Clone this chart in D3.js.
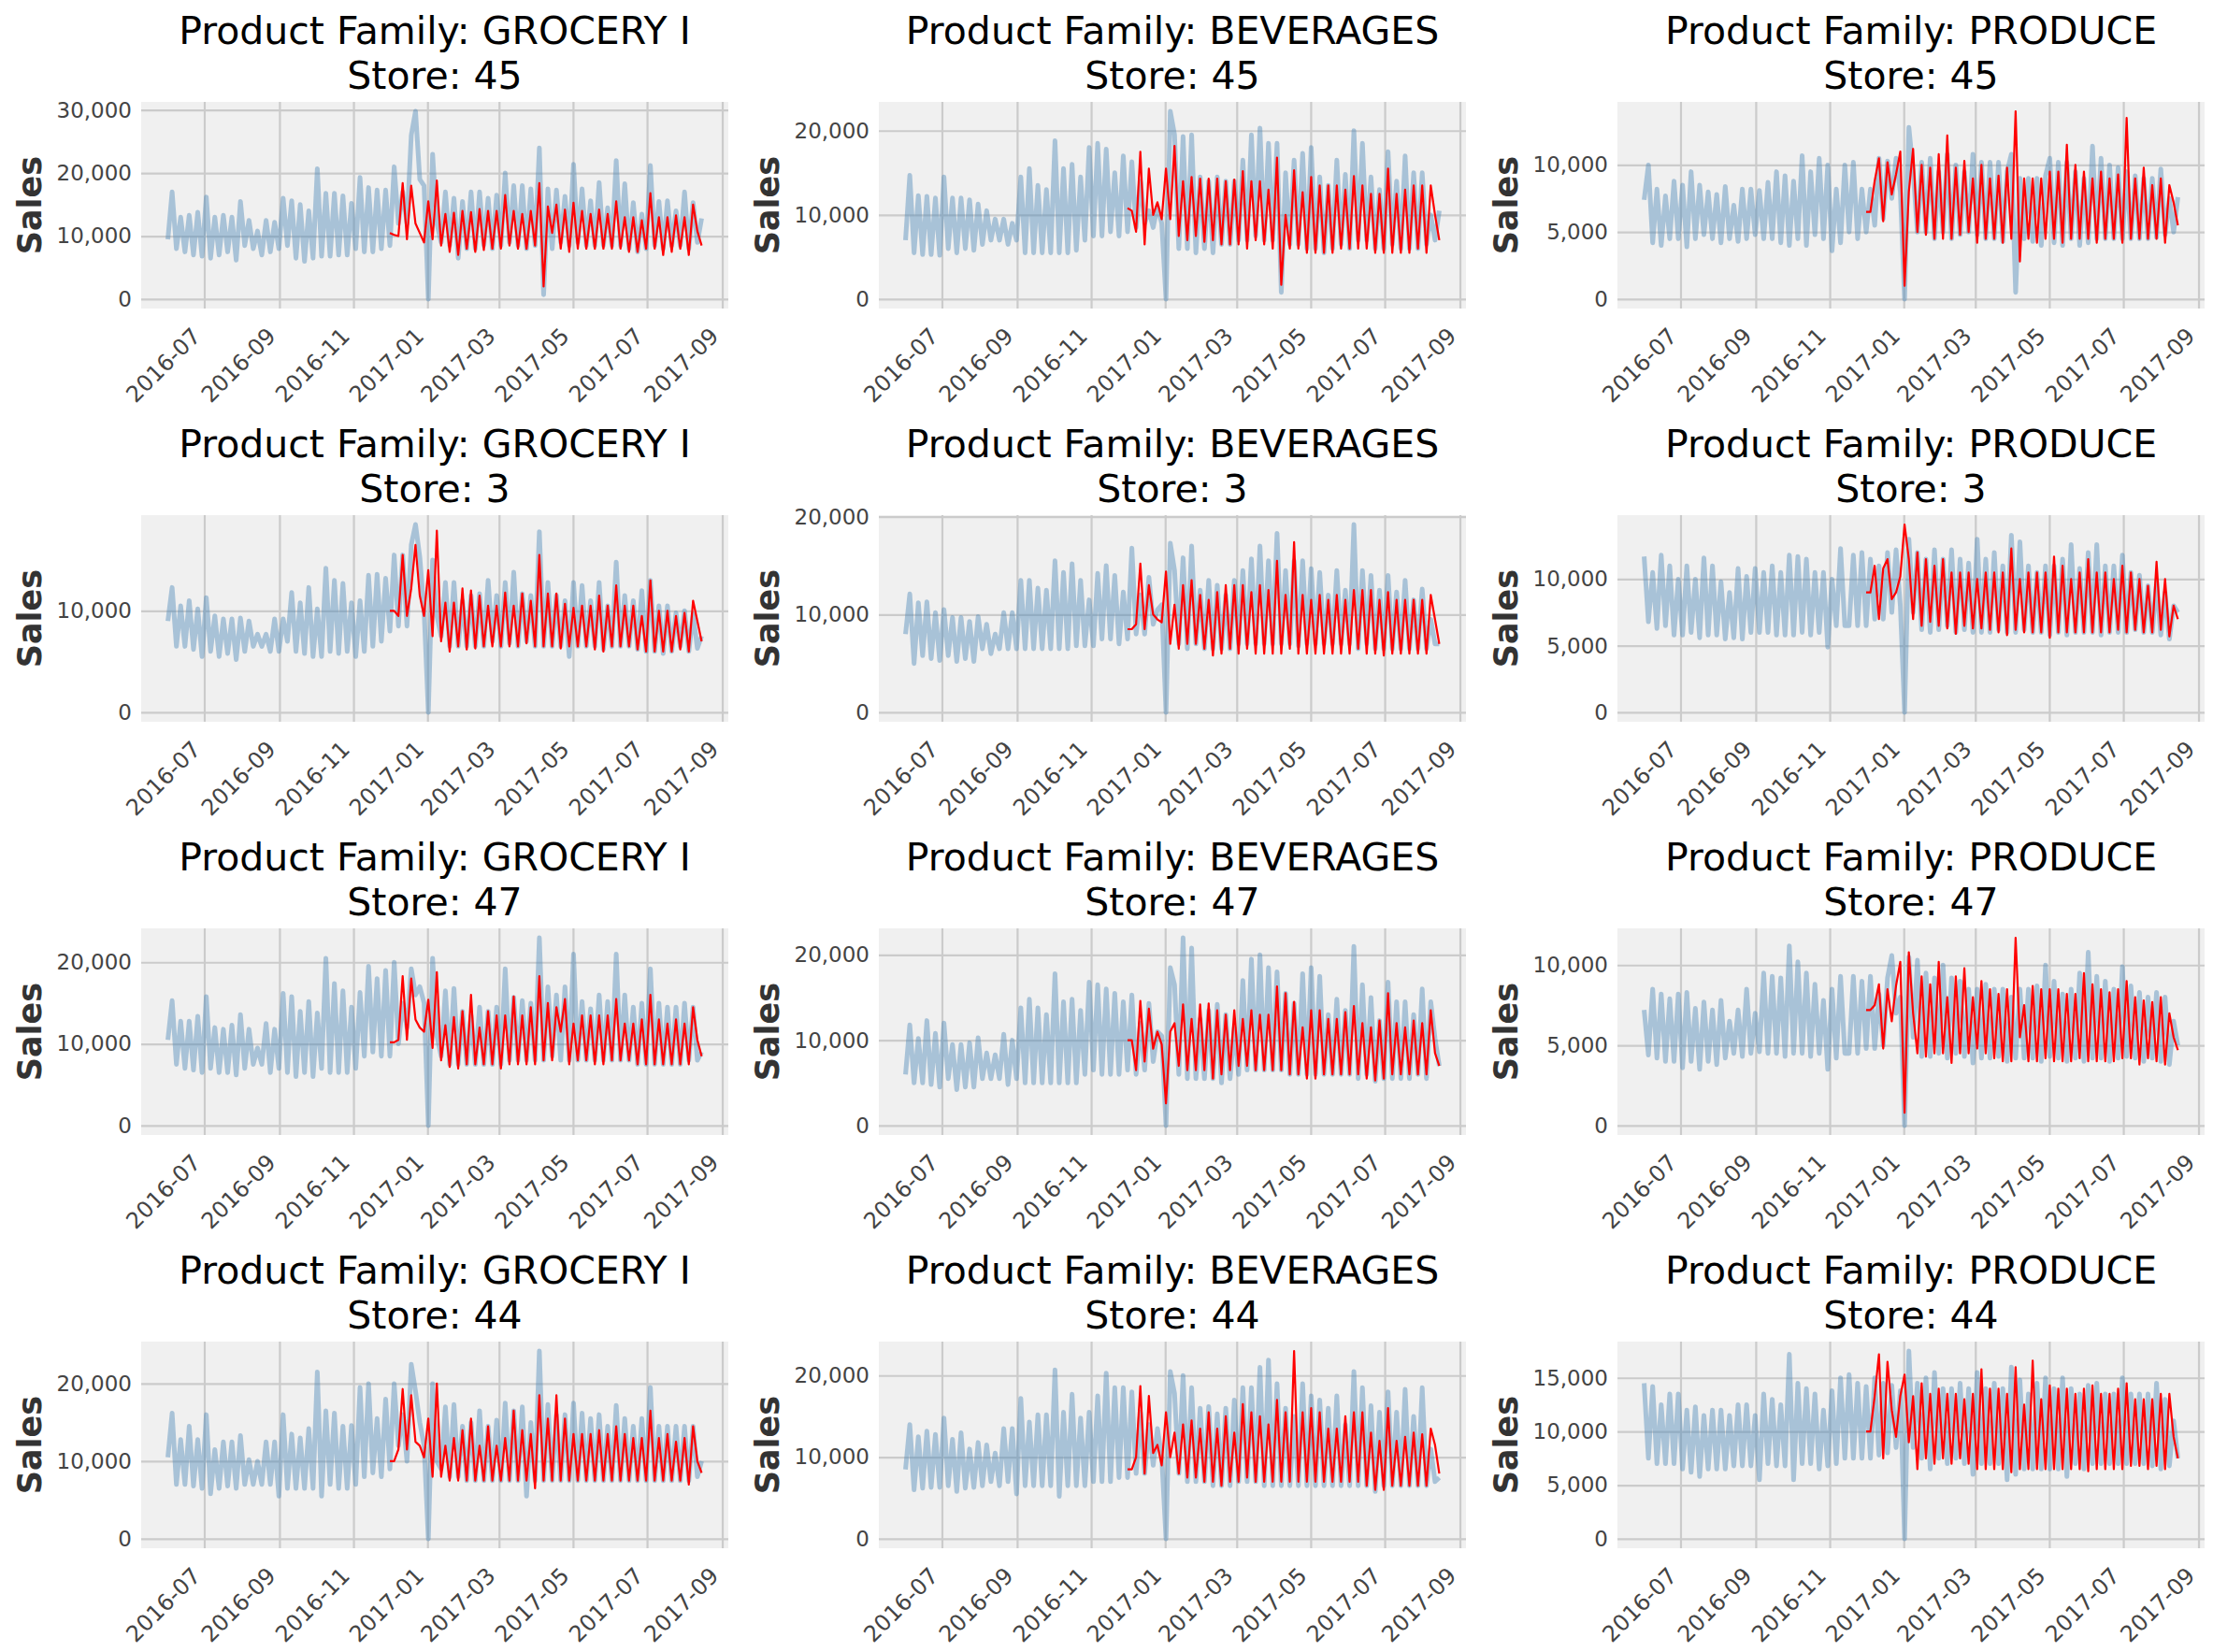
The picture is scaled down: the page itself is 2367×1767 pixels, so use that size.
<!DOCTYPE html>
<html>
<head>
<meta charset="utf-8">
<script src="https://cdn.jsdelivr.net/npm/d3@7"></script>
<style>
body { margin: 0; background: #fff; }
text { font-family: "DejaVu Sans", sans-serif; }
</style>
</head>
<body>
<div id="chart"></div>
<script>
// daily sales, in thousands, one value every ~3.5 days
var histStart = "2016-06-01";
var predStart = "2016-12-01";
var lastDay = "2017-08-15";

var stores = [45, 3, 47, 44];
var families = ["GROCERY I", "BEVERAGES", "PRODUCE"];

// ---- store 45
var grocery45Hist = [
  9.5, 17, 8.0, 13, 7.5, 13.3, 7.0, 13.8, 6.8, 16.2, 6.5, 13, 7.0, 13.3, 7.5, 13,
  6.2, 15.5, 8.5, 12.5, 8.0, 10.8, 7.0, 12.5, 7.5, 12.2, 8.0, 16, 8.5, 15.6, 6.5, 15,
  6.0, 14, 6.5, 20.7, 6.8, 16.8, 6.8, 16.8, 7.0, 16.4, 7.0, 15.2, 8.0, 19.3, 7.5, 17.7,
  7.5, 17.3, 8.0, 17.3, 8.5, 21, 12, 17, 12, 26, 29.8, 19, 18, 0, 23, 12,
  9.0, 17, 8.5, 16, 6.5, 15.5, 8.0, 17, 8.0, 17, 8.5, 16, 8.0, 16.5, 8.5, 20,
  9.0, 18, 8.5, 18, 8.0, 17.5, 8.5, 24, 0.7, 17.5, 8.0, 17.3, 9.0, 16.3, 8.5, 21.4,
  9.0, 17.5, 8.5, 15.6, 8.5, 18.5, 8.5, 14.5, 8.5, 22, 8.5, 18.3, 8.0, 15.3, 7.5, 13.5,
  8.0, 21.2, 8.5, 15.5, 8.0, 15.6, 8.5, 14, 8.5, 17, 8.0, 15.3, 9.0, 12.8
];
var grocery45Pred = [
  10.5, 10.2, 10, 18.4, 9.5, 18, 12, 10.5, 9.0, 15.5, 9.5, 18.8,
  8.5, 13.5, 7.5, 13.7, 7.0, 14, 8.0, 13.8, 7.5, 14.3, 7.8, 14, 8.0, 14, 8.0, 16.5,
  8.5, 14, 8.0, 13.5, 8.0, 14, 8.5, 18.4, 2.0, 14.7, 10.5, 15, 8.0, 14.2, 7.5, 15.3,
  8.0, 14, 8.0, 13.5, 8.0, 14.2, 8.0, 13.5, 8.0, 15.5, 8.0, 13, 7.5, 13, 7.5, 12.5,
  8.0, 16.8, 8.0, 13, 7.0, 13, 7.5, 13.3, 8.0, 13, 7.0, 15, 10.8, 8.5
];
var beverages45Hist = [
  7.0, 14.7, 5.5, 12.3, 5.3, 12.2, 5.3, 12, 5.2, 14.5, 6.0, 12, 5.5, 12, 6.0, 11.8,
  5.8, 11.3, 6.5, 10.5, 7.0, 9.5, 7.0, 9.5, 6.5, 9.0, 7.0, 14.5, 5.5, 15.5, 5.5, 13.5,
  5.5, 13, 5.5, 18.8, 5.5, 15.5, 5.5, 16, 5.8, 14.5, 7.0, 18, 7.5, 18.5, 7.5, 17.8,
  8.0, 15, 7.5, 17, 8.0, 16.3, 8.5, 14, 9.0, 10.5, 8.5, 11, 9.0, 0, 22.3, 19.5,
  6.0, 19.3, 6.0, 19.5, 5.5, 14.5, 6.0, 14, 5.5, 14.5, 6.5, 14, 6.5, 14, 7.0, 16.5,
  7.0, 19.5, 7.5, 20.3, 7.0, 18.5, 7.0, 18.5, 0.8, 15, 6.5, 16.5, 6.5, 17.3, 6.0, 18,
  6.0, 14.5, 5.5, 13.5, 6.0, 16.5, 6.5, 14.8, 6.0, 20, 7.0, 18.5, 7.0, 14.5, 6.0, 13,
  6.0, 17.5, 6.5, 14, 6.0, 17, 6.0, 15, 6.0, 15, 6.5, 10, 7.0, 10.5
];
var beverages45Pred = [
  10.8, 10.5, 8.0, 17.5, 6.5, 15.5, 10, 11.5, 9.5, 15.5, 9.5, 18.2,
  7.5, 14, 7.0, 14.5, 7.5, 14.3, 6.8, 14.3, 7.0, 14.3, 6.5, 14, 6.5, 14.2, 6.5, 15.2,
  6.0, 14, 7.0, 14, 6.5, 13, 6.0, 16.8, 1.7, 10, 6.0, 15.3, 6.0, 12.7, 5.5, 14.5,
  5.5, 13.5, 5.5, 13.5, 5.5, 13.5, 6.0, 13, 6.0, 14.6, 6.0, 13.5, 6.0, 12.5, 5.5, 12.5,
  5.5, 15.5, 5.5, 12.5, 5.5, 13, 5.5, 13.5, 6.0, 13.5, 5.5, 13.5, 10, 7.0
];
var produce45Hist = [
  7.4, 10, 4.2, 8.2, 4.0, 7.7, 4.5, 8.8, 4.5, 8.5, 3.9, 9.5, 4.5, 8.5, 4.8, 8.0,
  4.5, 7.8, 4.2, 8.4, 4.5, 7.0, 4.3, 8.2, 4.5, 8.2, 4.8, 8.1, 4.5, 8.7, 4.5, 9.5,
  4.2, 9.2, 4.0, 8.8, 4.5, 10.7, 4.0, 9.5, 4.8, 10.5, 4.5, 10, 3.6, 8.2, 4.2, 10,
  5.0, 10.2, 4.5, 8.2, 5.0, 8.2, 5.5, 10.5, 6.0, 10.3, 7.5, 10.5, 8.0, 0, 12.8, 9.5,
  5.0, 10.2, 5.0, 10.5, 4.5, 9.5, 5.0, 10.8, 4.5, 10, 4.8, 9.5, 5.0, 10.8, 4.8, 10.2,
  4.5, 10.2, 4.5, 10.2, 4.3, 9.5, 10.8, 0.5, 9.0, 4.5, 9.0, 4.3, 9.0, 4.0, 9.2, 10.5,
  4.2, 10.2, 4.0, 10.2, 4.5, 9.5, 4.0, 9.0, 4.2, 11.4, 4.5, 10.5, 4.5, 10, 4.5, 9.8,
  4.5, 9.5, 4.5, 9.2, 4.5, 9.0, 4.5, 9.0, 4.6, 9.7, 4.8, 7.5, 5.0, 7.6
];
var produce45Pred = [
  6.5, 6.5, 8.8, 10.5, 5.8, 10.2, 7.8, 9.3, 11, 1.0, 8.0, 11.2,
  5.0, 10, 4.8, 9.8, 4.5, 10.8, 4.5, 12.2, 4.5, 9.8, 4.8, 10.3, 5.0, 9.0, 4.2, 10,
  4.5, 9.0, 4.5, 9.2, 4.2, 9.8, 4.5, 14, 2.8, 9.0, 4.5, 9.0, 4.2, 9.0, 4.5, 9.5,
  4.5, 9.5, 4.2, 11.5, 4.5, 10, 4.5, 9.5, 4.5, 9.0, 4.2, 9.5, 4.5, 9.0, 4.5, 9.3,
  4.2, 13.5, 4.5, 9.0, 4.5, 9.8, 4.5, 8.5, 4.5, 9.0, 4.2, 8.5, 7.2, 5.5
];

// ---- store 3
var grocery3Hist = [
  9.0, 12.3, 6.5, 10.5, 6.5, 11, 6.2, 10.2, 5.5, 11.3, 6.0, 9.5, 5.5, 9.2, 5.8, 9.2,
  5.2, 9.3, 6.0, 9.0, 6.5, 7.7, 6.5, 7.7, 6.0, 9.2, 6.0, 9.2, 7.0, 11.8, 6.0, 10.8,
  5.8, 12.3, 5.5, 10.2, 5.5, 14.2, 6.0, 13, 5.8, 12.7, 6.0, 10.8, 5.5, 11, 6.0, 13.5,
  6.5, 13.6, 7.0, 13.2, 8.0, 15.5, 8.5, 15.5, 8.5, 16.5, 18.5, 15.3, 10, 0, 15, 9.5,
  7.5, 12.8, 6.5, 12.8, 6.5, 11, 6.5, 11.5, 6.5, 11.7, 6.5, 13, 7.0, 11.5, 6.5, 12.8,
  6.8, 13.8, 6.5, 11.7, 7.0, 11.5, 6.5, 17.8, 6.5, 12.8, 6.5, 11.5, 6.5, 11, 5.5, 12.8,
  6.5, 12.5, 6.5, 11, 6.5, 12.8, 6.2, 10.5, 6.5, 14.8, 6.5, 11.5, 6.5, 11, 6.2, 12,
  6.0, 13, 6.0, 10.5, 5.8, 10.5, 6.0, 9.8, 6.5, 10, 6.0, 9.7, 6.3, 7.5
];
var grocery3Pred = [
  10, 10, 9.5, 15.5, 9.5, 12.2, 16.5, 11.5, 9.5, 14, 7.5, 17.9,
  7.0, 10.8, 6.0, 10.8, 6.5, 12.2, 6.2, 12, 6.3, 11.5, 6.5, 10.5, 6.5, 10.5, 6.5, 11.8,
  6.5, 10.5, 6.5, 11.7, 6.8, 11, 6.5, 15.5, 6.5, 11.7, 6.5, 11.7, 6.3, 10.7, 6.5, 10.3,
  6.5, 10.5, 6.5, 10.5, 6.2, 11.5, 6.0, 10.5, 6.5, 12.5, 6.5, 10.5, 6.5, 10.5, 6.2, 9.5,
  6.0, 13, 6.0, 10, 6.0, 10, 6.0, 9.5, 6.2, 9.8, 6.0, 11, 9.0, 7.0
];
var beverages3Hist = [
  8.0, 12.1, 5.0, 11.2, 5.8, 11.3, 5.5, 10.2, 5.3, 10.5, 5.8, 9.7, 5.2, 9.7, 5.5, 9.3,
  5.2, 9.8, 6.5, 9.0, 6.0, 8.0, 6.5, 10.2, 6.5, 10.2, 6.5, 13.5, 6.5, 13.5, 6.5, 12.7,
  6.5, 12.5, 6.5, 15.5, 6.5, 14.3, 6.5, 15.2, 6.8, 13.5, 6.8, 11.5, 6.8, 14.2, 7.5, 15,
  7.5, 14, 7.0, 12.3, 7.5, 16.8, 8.0, 12, 8.0, 13.8, 9.0, 10.5, 11, 0, 17.3, 14.5,
  7.0, 15.8, 6.5, 17, 7.0, 12.5, 6.5, 13.5, 6.5, 13, 6.5, 12, 6.5, 13.5, 7.0, 14.5,
  7.0, 15.7, 7.0, 17, 7.0, 15.5, 7.0, 18.3, 7.0, 14.5, 7.0, 15.5, 6.8, 15.5, 7.0, 14.7,
  7.0, 14.3, 7.0, 12, 7.0, 14.5, 7.0, 12.5, 7.0, 19.2, 6.5, 14.5, 7.0, 14, 6.5, 12.5,
  6.5, 14, 6.5, 12.3, 6.5, 13.5, 6.5, 11.5, 6.5, 12.6, 6.5, 9.5, 7.0, 7.0
];
var beverages3Pred = [
  8.5, 8.5, 9.0, 15.2, 8.5, 13, 10, 9.5, 9.2, 14.4, 7.0, 11,
  6.5, 13, 7.0, 13.5, 7.0, 12, 6.5, 11.5, 5.8, 12.3, 6.0, 13, 6.5, 13, 6.0, 13,
  6.5, 12.3, 6.0, 13, 6.0, 12.5, 6.0, 15.5, 6.0, 12, 6.5, 17.4, 6.0, 12, 6.0, 11.5,
  6.0, 12, 6.0, 11.5, 6.0, 12, 6.0, 11.5, 6.0, 12.5, 6.5, 12.5, 6.0, 12.5, 6.0, 11.5,
  5.8, 12.3, 6.0, 11.5, 6.0, 11.5, 6.0, 11.5, 6.0, 11.5, 6.0, 12, 9.5, 7.0
];
var produce3Hist = [
  11.7, 6.8, 10.5, 6.3, 11.8, 6.5, 11, 5.8, 10, 5.8, 11, 6.0, 10, 5.6, 11.6, 5.8,
  11, 5.8, 9.8, 5.5, 9.0, 5.6, 10.8, 5.5, 10.2, 6.0, 10.8, 6.0, 10.5, 6.0, 11, 5.8,
  10.5, 5.8, 11.8, 5.8, 11.7, 6.0, 11.5, 5.8, 10.5, 6.0, 10.5, 4.9, 10, 6.5, 12.3, 6.5,
  6.5, 11.8, 6.5, 12, 6.5, 11.5, 7.0, 11, 7.0, 12, 7.5, 12.2, 8.0, 0, 13, 7.5,
  12, 6.2, 11.5, 6.0, 12.2, 6.2, 11.5, 6.5, 12.2, 6.0, 11.5, 6.2, 11.2, 6.0, 13, 6.0,
  11.5, 6.0, 12, 6.2, 11, 6.0, 13.3, 6.0, 12.8, 6.2, 11, 6.0, 10.5, 6.0, 11, 5.8,
  11, 6.0, 11.5, 5.8, 12.6, 6.0, 10.8, 6.0, 12, 6.0, 12.6, 5.8, 11, 6.0, 11, 6.0,
  11.8, 6.0, 10.5, 6.2, 10.3, 6.0, 9.5, 6.0, 9.8, 5.8, 9.0, 5.5, 8.0, 7.5
];
var produce3Pred = [
  9.0, 9.0, 11, 7.0, 10.8, 11.5, 8.5, 9.0, 10.2, 14.1, 11.5, 7.0,
  12, 6.5, 11.5, 6.8, 11, 6.5, 11.5, 6.3, 10.5, 5.9, 10.5, 6.5, 10.5, 6.3, 10, 6.3,
  10.5, 6.2, 10.5, 6.0, 10.5, 5.8, 12.3, 6.2, 10, 6.0, 10.5, 6.0, 10.5, 6.0, 10.5, 5.6,
  11.7, 6.0, 11, 6.0, 10, 6.0, 10.5, 6.0, 11.5, 6.0, 10.5, 6.0, 10.5, 6.0, 10, 6.2,
  11, 6.0, 10.5, 6.2, 10, 6.0, 9.5, 6.0, 11.3, 6.2, 10, 5.7, 8.0, 7.0
];

// ---- store 47
var grocery47Hist = [
  10.5, 15.3, 7.5, 12.8, 7.0, 12.8, 6.8, 13.4, 6.5, 15.8, 7.0, 12, 6.5, 11.8, 6.5, 12.3,
  6.2, 13.6, 7.0, 11.8, 7.5, 9.5, 7.5, 12.5, 6.5, 11.8, 7.0, 16.2, 6.5, 15.8, 6.0, 14,
  6.5, 15.2, 6.0, 13.8, 7.0, 20.5, 6.5, 17.4, 6.5, 16.5, 6.5, 14.5, 7.0, 16.3, 8.5, 19.5,
  9.0, 18, 8.5, 19, 8.5, 20, 10, 15, 12, 19.2, 16, 17, 15, 0, 20.5, 11,
  8.5, 16.5, 7.5, 16.8, 7.5, 14, 7.5, 13.5, 7.5, 14.5, 7.5, 14, 7.5, 14.5, 7.5, 19.2,
  8.0, 15.7, 8.0, 15.3, 8.0, 15, 8.0, 23, 8.0, 17, 8.5, 16, 8.0, 17, 8.0, 21,
  8.0, 15.2, 8.0, 14.3, 8.0, 16, 8.0, 15.2, 8.0, 21, 8.0, 16, 8.0, 14.5, 7.5, 15,
  7.5, 19.2, 7.5, 15, 7.5, 14.5, 7.5, 14.5, 7.5, 15, 8.0, 14.5, 8.0, 9.0
];
var grocery47Pred = [
  10.2, 10.2, 10.5, 18.3, 10.5, 18, 13, 12, 11.5, 15.4, 9.5, 18.8,
  8.0, 12.3, 7.2, 13.3, 7.0, 14, 7.5, 16, 7.5, 12, 7.5, 14, 7.5, 13.5, 7.0, 13.5,
  7.5, 15.8, 7.5, 13.5, 7.5, 14.5, 7.5, 18.3, 8.0, 15, 8.0, 14.5, 11.5, 15.5, 7.5, 12.5,
  8.0, 13.5, 8.0, 13.5, 7.5, 13.5, 7.5, 13.5, 8.0, 15.5, 8.0, 12.5, 8.0, 12.5, 7.5, 13,
  7.5, 16, 7.5, 13, 7.5, 12.5, 7.5, 13, 7.5, 12.5, 7.5, 14.5, 10.5, 8.5
];
var beverages47Hist = [
  6.0, 11.8, 5.0, 10.2, 5.0, 12.3, 4.8, 10.8, 4.5, 12, 5.5, 9.5, 4.2, 9.5, 4.5, 9.7,
  4.5, 10.3, 5.5, 8.5, 5.5, 8.3, 5.5, 10.7, 4.8, 10, 5.5, 13.8, 5.0, 14.8, 5.0, 13.8,
  5.0, 13, 5.0, 17.8, 5.0, 14.5, 5.0, 14.8, 5.0, 13.5, 6.0, 16.8, 6.5, 16.5, 6.0, 16,
  6.0, 15.5, 6.0, 14.5, 6.5, 15.3, 6.0, 12, 6.5, 14.3, 7.5, 11, 10.5, 0, 18.5, 16.5,
  6.0, 22, 5.5, 20.8, 5.5, 12.5, 5.5, 13.5, 5.5, 14.2, 5.0, 13, 5.5, 11.5, 6.0, 17,
  6.5, 19.5, 6.5, 20, 6.5, 18.5, 6.5, 18, 6.5, 15.5, 6.0, 14.3, 6.0, 17.8, 6.0, 18.5,
  6.0, 17.5, 6.0, 13, 6.0, 14.8, 6.0, 13.5, 6.0, 21, 5.5, 16.5, 6.0, 15, 5.2, 12.3,
  5.5, 16.8, 5.5, 14.5, 5.5, 14.5, 5.5, 13, 6.0, 16, 5.5, 14.5, 10.2, 7.0
];
var beverages47Pred = [
  10, 10, 6.5, 14.6, 7.5, 13.7, 9.0, 11, 9.5, 2.6, 11, 12,
  7.0, 14.2, 6.5, 12.5, 6.5, 14.2, 6.5, 14.3, 5.5, 13.5, 6.0, 13, 6.5, 13.5, 7.0, 12.5,
  7.0, 13.5, 6.5, 13, 6.5, 13, 6.5, 16.3, 6.5, 15.5, 6.0, 14.5, 6.0, 11.5, 5.5, 13.5,
  5.5, 13.5, 6.0, 12.5, 6.0, 12.5, 6.0, 13.3, 6.0, 14, 6.0, 12, 5.5, 11.5, 5.3, 12.3,
  5.5, 15.5, 6.0, 12, 6.0, 11.5, 6.0, 12.3, 6.0, 12, 6.0, 13.5, 8.5, 7.0
];
var produce47Hist = [
  7.2, 4.4, 8.5, 4.2, 8.2, 4.0, 7.9, 4.0, 8.2, 3.6, 8.3, 4.0, 7.3, 3.5, 7.7, 4.0,
  7.2, 3.8, 7.8, 4.2, 6.5, 4.5, 7.2, 4.3, 8.5, 4.5, 7.0, 4.6, 9.5, 4.5, 9.3, 4.5,
  9.2, 4.3, 11.2, 4.5, 10.2, 4.5, 9.5, 4.3, 8.8, 4.5, 7.8, 3.5, 8.5, 4.2, 9.3, 4.5,
  4.5, 9.3, 4.5, 9.0, 4.8, 9.3, 4.8, 8.2, 5.0, 9.2, 10.6, 7.0, 8.0, 0, 10.5, 5.5,
  10.3, 4.3, 9.5, 4.3, 9.2, 4.5, 10, 4.2, 9.2, 4.5, 9.0, 4.3, 8.5, 3.9, 8.5, 4.2,
  8.8, 4.2, 8.5, 4.3, 8.5, 4.0, 8.0, 4.2, 8.5, 4.2, 8.5, 4.2, 8.7, 4.0, 10, 4.3,
  9.0, 4.2, 8.2, 4.0, 8.5, 4.2, 9.5, 4.0, 10.8, 4.2, 9.3, 4.2, 9.0, 4.0, 8.5, 4.2,
  9.9, 4.3, 8.7, 4.2, 8.3, 4.0, 8.0, 4.2, 8.3, 4.0, 8.0, 3.8, 6.5, 5.0
];
var produce47Pred = [
  7.2, 7.2, 7.5, 8.8, 4.8, 8.5, 6.5, 8.7, 10.2, 0.8, 10.8, 7.0,
  4.5, 9.3, 4.3, 8.8, 4.5, 10.2, 4.5, 8.0, 3.9, 9.3, 4.5, 9.8, 4.5, 8.0, 4.8, 9.0,
  4.5, 8.5, 4.2, 8.2, 4.0, 8.5, 4.0, 11.7, 5.5, 7.5, 4.0, 8.7, 4.0, 8.5, 4.2, 8.5,
  4.0, 8.5, 4.0, 8.2, 4.0, 8.2, 4.2, 9.5, 4.0, 8.8, 4.0, 8.5, 4.0, 8.3, 4.0, 8.5,
  4.2, 9.0, 4.2, 8.0, 3.8, 7.8, 4.2, 7.7, 4.0, 8.0, 3.8, 7.0, 5.5, 4.7
];

// ---- store 44
var grocery44Hist = [
  10.5, 16.2, 7.0, 12.8, 7.0, 14.5, 6.8, 12.8, 6.5, 16, 5.8, 11.5, 6.5, 12.5, 6.8, 12.5,
  6.5, 13.3, 7.0, 10.2, 7.0, 10, 7.0, 12.5, 7.0, 12.5, 5.5, 16, 6.5, 13.5, 6.5, 13,
  6.5, 14.2, 6.5, 21.5, 5.5, 16.5, 7.0, 16.2, 6.5, 14.5, 6.5, 14.6, 7.0, 19.5, 8.0, 20,
  8.5, 15.5, 8.0, 18, 9.0, 20, 12, 16, 10, 22.5, 19, 15, 12, 0, 20, 10,
  9.0, 17, 8.0, 17.3, 8.0, 14.5, 7.5, 15, 7.5, 16.5, 7.5, 14.5, 7.5, 15.3, 7.5, 17.5,
  7.5, 16.5, 7.5, 17, 5.5, 15, 7.5, 24.2, 7.5, 17.3, 7.5, 16, 7.5, 16, 7.5, 17.5,
  7.5, 16.2, 7.5, 15.5, 7.5, 16, 7.5, 14.5, 7.5, 17.2, 7.5, 15.5, 7.5, 14.5, 7.5, 15.5,
  7.5, 19.5, 7.5, 14.5, 7.5, 14.5, 7.5, 14.5, 7.5, 14.5, 7.5, 14.5, 8.0, 10
];
var grocery44Pred = [
  10, 10, 11.5, 19.3, 11.5, 18.5, 12.5, 12, 10.5, 15.5, 8.0, 20,
  8.0, 12, 7.5, 13, 7.5, 14, 7.5, 15.5, 7.5, 12, 7.5, 14.5, 7.5, 12, 7.5, 13,
  7.5, 16.5, 7.5, 14, 7.5, 13.5, 6.5, 18.5, 7.5, 15.5, 7.5, 18.5, 7.5, 15.5, 7.5, 13.5,
  7.5, 13.5, 7.5, 13.5, 7.5, 14, 7.5, 13.5, 7.5, 14.5, 7.5, 13.5, 7.5, 13, 7.5, 13,
  7.5, 16.5, 7.5, 13, 7.5, 13.5, 7.5, 12.5, 7.5, 13, 7.0, 14.5, 10, 8.5
];
var beverages44Hist = [
  8.5, 14, 6.0, 12.5, 6.2, 13.2, 6.3, 12.8, 6.3, 14.8, 6.5, 12.2, 5.8, 13, 6.2, 11,
  6.3, 11.8, 6.5, 11.5, 7.0, 10.5, 6.5, 13.5, 7.0, 13.5, 5.5, 17.2, 6.5, 14.3, 6.5, 15.2,
  6.5, 15.2, 6.5, 20.7, 5.2, 15.5, 6.5, 17.7, 6.5, 14.8, 6.5, 15.5, 7.0, 17.5, 7.0, 20.3,
  7.0, 18.5, 7.5, 18.5, 7.5, 18, 8.0, 15.5, 8.0, 14, 9.0, 13.5, 10, 0, 20.5, 17.8,
  8.0, 20, 7.0, 18.5, 7.0, 16, 7.0, 16.2, 6.5, 15.3, 6.5, 16, 6.5, 17, 7.0, 18.5,
  7.0, 18.5, 7.0, 21, 6.5, 21.9, 6.5, 19, 6.5, 16, 6.5, 15, 6.5, 19, 6.5, 17.5,
  6.5, 17, 6.5, 16, 6.5, 17.5, 6.5, 14, 6.5, 20.5, 6.5, 18.5, 6.5, 16.3, 5.8, 15.5,
  6.5, 18, 6.5, 15.5, 6.5, 18.3, 6.5, 15, 6.5, 18.5, 6.5, 11, 7.0, 7.5
];
var beverages44Pred = [
  8.5, 8.5, 10, 18.7, 8.0, 17.5, 10.5, 11.5, 9.0, 15.5, 10, 13,
  8.0, 14, 7.5, 14.5, 7.5, 13.5, 7.0, 15.5, 7.0, 13.5, 6.5, 15, 7.0, 13, 7.0, 16.5,
  7.5, 15.5, 7.0, 15, 7.0, 14, 7.0, 17, 7.0, 15.5, 7.0, 23, 7.0, 15.5, 7.0, 16,
  7.0, 15.5, 7.0, 13.5, 7.0, 13.5, 7.0, 15, 7.0, 15.5, 7.0, 15.5, 6.5, 13, 6.0, 12,
  6.0, 16, 6.5, 12, 6.5, 12.5, 6.5, 13, 6.5, 12.8, 6.5, 13.5, 11.5, 8.0
];
var produce44Hist = [
  14.5, 7.5, 14.2, 7.0, 12.5, 7.0, 13.5, 7.0, 13.5, 6.5, 12, 6.2, 12.3, 5.8, 11.5, 6.5,
  12, 6.5, 12, 6.5, 11.5, 6.8, 12.5, 6.8, 12.5, 6.8, 11.5, 5.5, 13.5, 7.0, 13, 6.8,
  12.5, 6.8, 17.2, 5.5, 14.5, 7.0, 14, 7.0, 13.5, 6.5, 12, 6.8, 13.8, 7.0, 15, 7.5,
  15.3, 7.5, 14.5, 7.5, 14.2, 7.5, 15, 7.8, 14.5, 8.0, 14.3, 8.5, 13.8, 0, 17.5, 8.5,
  14.5, 7.5, 15, 6.5, 15.5, 7.5, 14, 7.0, 14, 7.5, 14.5, 7.0, 14, 6.0, 15.5, 7.0,
  14, 7.0, 14.5, 7.0, 14, 5.5, 16, 6.0, 14.8, 6.5, 13.5, 6.5, 14.5, 6.5, 15, 6.5,
  14, 6.5, 15, 5.8, 14, 7.0, 13.5, 6.5, 14.3, 7.0, 14.5, 7.0, 13.5, 7.0, 13.5, 7.0,
  15, 7.0, 13.5, 7.0, 13.5, 7.0, 13.5, 6.8, 14.5, 6.5, 13, 6.8, 11, 7.5
];
var produce44Pred = [
  10, 10, 13.3, 17.2, 7.5, 16.5, 12, 9.5, 13.3, 15.3, 9.0, 13.3,
  6.5, 14.5, 7.5, 13.5, 7.0, 14, 7.5, 13.5, 7.0, 13.5, 7.5, 13, 7.0, 13.5, 6.5, 15.8,
  6.5, 14, 6.5, 14, 6.5, 13.5, 6.2, 16, 6.5, 12.5, 6.5, 16.6, 6.5, 13, 6.5, 14.3,
  6.5, 14, 6.5, 14, 6.5, 13.5, 6.5, 14, 6.3, 14.3, 6.5, 13.5, 6.5, 13.5, 6.5, 14,
  6.5, 14.5, 6.8, 13, 6.8, 13, 6.5, 13, 6.8, 13.5, 6.5, 13.5, 9.5, 7.5
];

var yTicksBig = [0, 10000, 20000];
var yTicks = [
  [0, 10000, 20000, 30000], yTicksBig, [0, 5000, 10000],
  [0, 10000], yTicksBig, [0, 5000, 10000],
  yTicksBig, yTicksBig, [0, 5000, 10000],
  yTicksBig, yTicksBig, [0, 5000, 10000, 15000]
];

var panels = [
  [grocery45Hist, grocery45Pred], [beverages45Hist, beverages45Pred], [produce45Hist, produce45Pred],
  [grocery3Hist, grocery3Pred], [beverages3Hist, beverages3Pred], [produce3Hist, produce3Pred],
  [grocery47Hist, grocery47Pred], [beverages47Hist, beverages47Pred], [produce47Hist, produce47Pred],
  [grocery44Hist, grocery44Pred], [beverages44Hist, beverages44Pred], [produce44Hist, produce44Pred]
];

var svgWidth = 2367;
var svgHeight = 1767;
var colLeft = [151, 940, 1730];
var rowTop = [109, 551, 993, 1435];
var plotW = 628;
var plotH = 221;

var parseDate = d3.timeParse("%Y-%m-%d");

function toPoints(vals, start, end) {
    var t0 = parseDate(start).getTime();
    var t1 = parseDate(end).getTime();
    var step = (t1 - t0) / (vals.length - 1);
    return vals.map(function(v, i) {
        return { date: new Date(t0 + i * step), sales: v * 1000 };
    });
}

var svg = d3.select("#chart")
    .append("svg")
    .attr("width", svgWidth)
    .attr("height", svgHeight)
    .style("background", "#fff");

// matplotlib-like 5% margins on the date range
var tStart = parseDate(histStart), tEnd = parseDate(lastDay);
var tPad = (tEnd - tStart) * 0.05;
var xScale = d3.scaleTime()
    .domain([new Date(+tStart - tPad), new Date(+tEnd + tPad)])
    .range([0, plotW]);

panels.forEach(function(p, i) {
    var row = Math.floor(i / 3), col = i % 3;
    var hist = toPoints(p[0], histStart, lastDay);
    var pred = toPoints(p[1], predStart, lastDay);

    var ext = d3.extent(hist.concat(pred), d => d.sales);
    var yPad = (ext[1] - ext[0]) * 0.05;
    var yScale = d3.scaleLinear()
        .domain([ext[0] - yPad, ext[1] + yPad])
        .range([plotH, 0]);

    var g = svg.append("g")
        .attr("transform", `translate(${colLeft[col]}, ${rowTop[row]})`);

    g.append("rect")
        .attr("width", plotW)
        .attr("height", plotH)
        .attr("fill", "#f0f0f0");

    var leftAxis = d3.axisLeft(yScale)
        .tickValues(yTicks[i])
        .tickSize(-plotW)
        .tickPadding(10)
        .tickFormat(d3.format(","));

    var bottomAxis = d3.axisBottom(xScale)
        .ticks(d3.timeMonth.every(2))
        .tickSize(-plotH)
        .tickFormat(d3.timeFormat("%Y-%m"));

    var yAx = g.append("g").call(leftAxis);
    var xAx = g.append("g")
        .attr("transform", `translate(0, ${plotH})`)
        .call(bottomAxis);

    [yAx, xAx].forEach(function(ax) {
        ax.select(".domain").remove();
        ax.selectAll(".tick line")
            .attr("stroke", "#cbcbcb")
            .attr("stroke-width", 2.2);
        ax.selectAll(".tick text")
            .attr("fill", "#444")
            .style("font-size", "23px");
    });

    xAx.selectAll(".tick text")
        .attr("text-anchor", "end")
        .attr("dy", null)
        .attr("y", null)
        .style("font-size", "24px")
        .attr("transform", "translate(-3, 31) rotate(-45)");

    var line = d3.line()
        .x(d => xScale(d.date))
        .y(d => yScale(d.sales));

    g.append("path")
        .datum(hist)
        .attr("d", line)
        .attr("fill", "none")
        .attr("stroke", "steelblue")
        .attr("stroke-opacity", 0.42)
        .attr("stroke-width", 5)
        .attr("stroke-linejoin", "round");

    g.append("path")
        .datum(pred)
        .attr("d", line)
        .attr("fill", "none")
        .attr("stroke", "red")
        .attr("stroke-width", 2.2)
        .attr("stroke-linejoin", "round");

    g.append("text")
        .attr("x", plotW / 2)
        .attr("y", -62)
        .attr("text-anchor", "middle")
        .style("font-size", "41px")
        .attr("fill", "#000")
        .text(`Product Family: ${families[col]}`);

    g.append("text")
        .attr("x", plotW / 2)
        .attr("y", -14)
        .attr("text-anchor", "middle")
        .style("font-size", "41px")
        .attr("fill", "#000")
        .text(`Store: ${stores[row]}`);

    g.append("text")
        .attr("transform", `translate(-107, ${plotH / 2}) rotate(-90)`)
        .attr("text-anchor", "middle")
        .style("font-size", "35px")
        .style("font-weight", "bold")
        .attr("fill", "#333")
        .text("Sales");
});
</script>
</body>
</html>
